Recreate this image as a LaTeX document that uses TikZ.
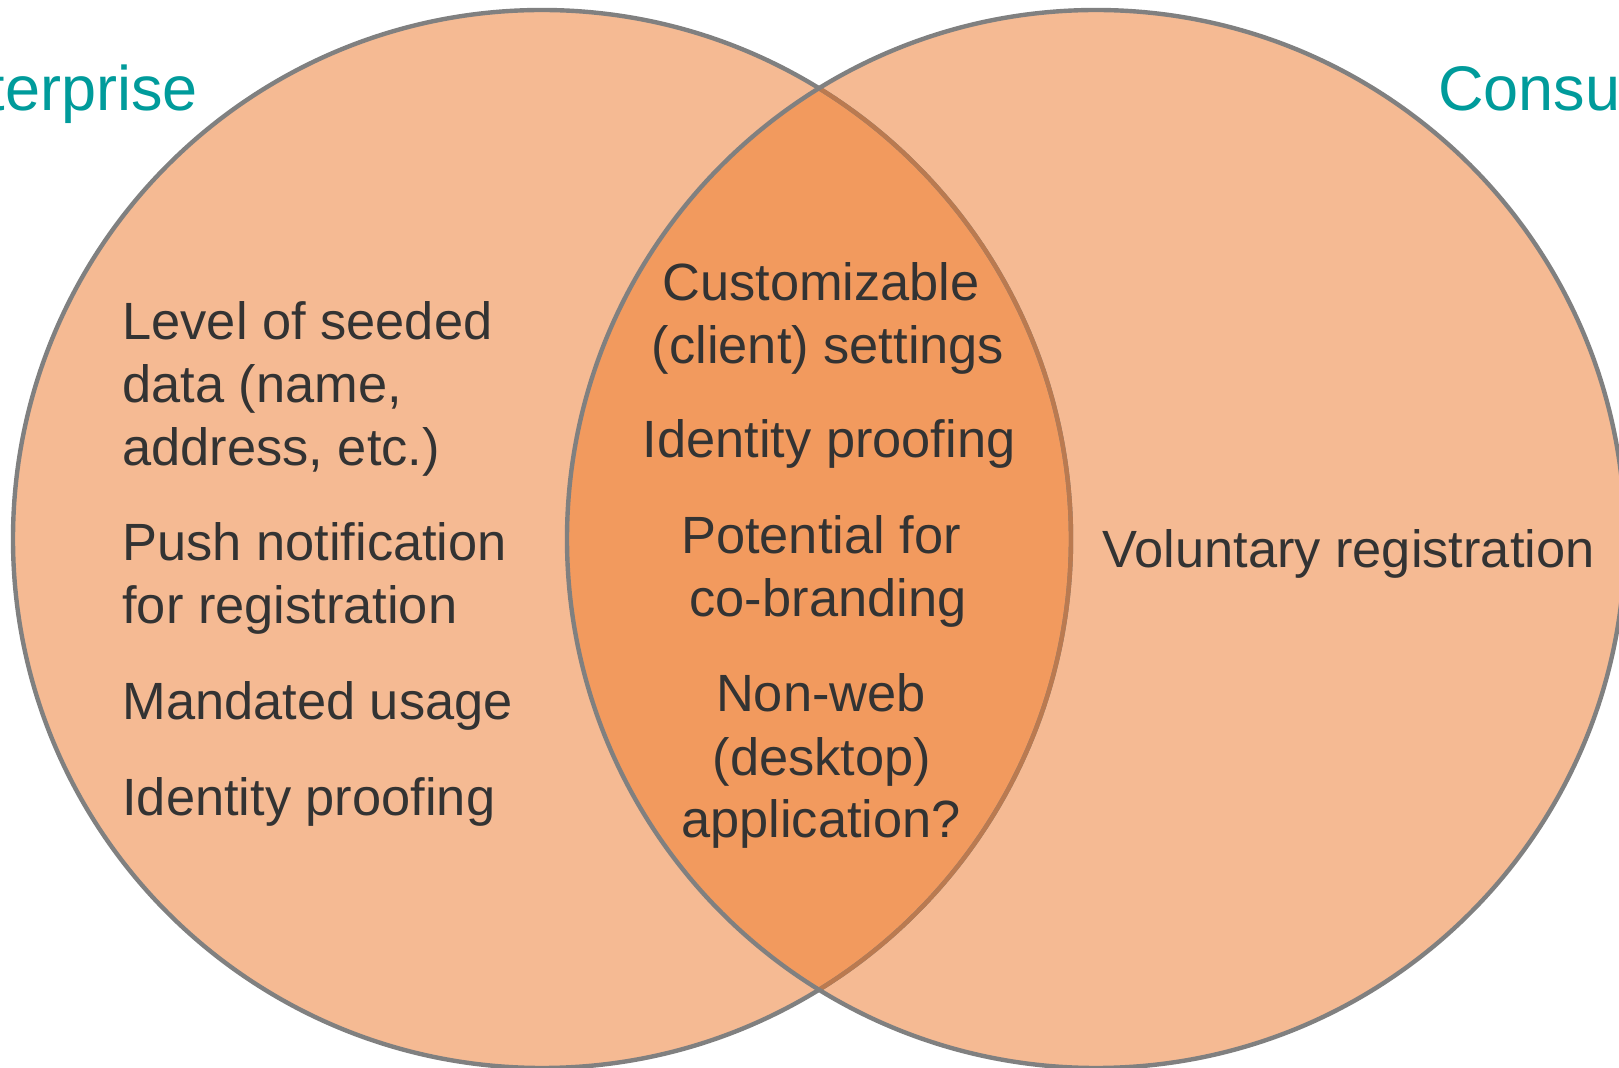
\documentclass[tikz,border=0pt]{standalone}
\usepackage{fontspec}
\setmainfont{Liberation Sans}
\definecolor{lightfill}{RGB}{245,186,147}
\definecolor{darkfill}{RGB}{242,154,94}
\definecolor{rimgray}{RGB}{128,128,128}
\definecolor{rimbrown}{RGB}{186,122,80}
\definecolor{teal}{RGB}{0,155,155}
\definecolor{txt}{RGB}{51,51,51}
\tikzset{
  bodytext/.style={text=txt, inner sep=0pt, font=\fontsize{26.2}{31.5}\selectfont},
  lefttext/.style={bodytext, anchor=base west},
  midtext/.style={bodytext, anchor=base},
  titletext/.style={text=teal, inner sep=0pt, font=\fontsize{31.5}{36}\selectfont},
  rim/.style={draw=rimgray, line width=2.2pt},
}
\begin{document}
\begin{tikzpicture}[x=0.5pt,y=-0.5pt]
\useasboundingbox (0,0) rectangle (1619,1068);
\clip (0,0) rectangle (1619,1068);
\fill[white] (0,0) rectangle (1619,1068);
\coordinate (cl) at (542,539);
\coordinate (cr) at (1096,539);
% fills
\fill[lightfill] (cl) circle[radius=264.5pt];
\fill[lightfill] (cr) circle[radius=264.5pt];
\begin{scope}
  \clip (cl) circle[radius=264.5pt];
  \fill[darkfill] (cr) circle[radius=264.5pt];
\end{scope}
% outlines
\draw[rim] (cl) circle[radius=264.5pt];
\begin{scope}
  \clip (cr) circle[radius=264.5pt];
  \draw[rim, draw=rimbrown] (cl) circle[radius=264.5pt];
\end{scope}
\draw[rim] (cr) circle[radius=264.5pt];
% titles
\node[titletext, anchor=base east] (tl) at (198,111) {Enterprise};
\node[titletext, anchor=base west] (tr) at (1438,111) {Consumer};
% left set
\node[lefttext] (l1) at (122,340) {Level of seeded};
\node[lefttext] (l2) at (122,403) {data (name,};
\node[lefttext] (l3) at (122,466) {address, etc.)};
\node[lefttext] (l4) at (122,561) {Push notification};
\node[lefttext] (l5) at (122,624) {for registration};
\node[lefttext] (l6) at (122,720) {Mandated usage};
\node[lefttext] (l7) at (122,816) {Identity proofing};
% intersection
\node[midtext] (m1) at (821,301) {Customizable};
\node[midtext] (m2) at (828,364) {(client) settings};
\node[midtext] (m3) at (829,458) {Identity proofing};
\node[midtext] (m4) at (821,554) {Potential for};
\node[midtext] (m5) at (828,617) {co-branding};
\node[midtext] (m6) at (821,712) {Non-web};
\node[midtext] (m7) at (822,776) {(desktop)};
\node[midtext] (m8) at (821,838) {application?};
% right set
\node[lefttext] (r1) at (1102,568) {Voluntary registration};
\end{tikzpicture}
\end{document}
